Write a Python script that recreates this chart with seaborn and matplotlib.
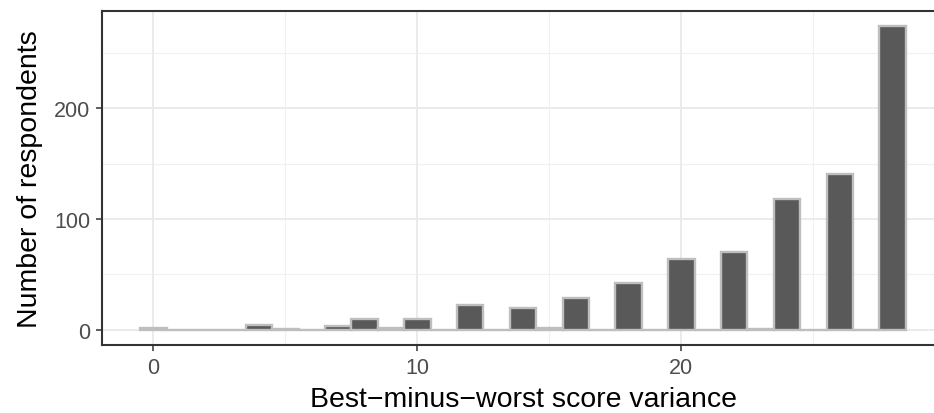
import numpy as np
import pandas as pd
import matplotlib
matplotlib.use("Agg")
import matplotlib.pyplot as plt
import seaborn as sns

# Data: score variance (integer bins) and number of respondents
variance = list(range(0, 29))
respondents = [2, 0, 0, 0, 4, 1, 0, 3, 10, 2, 10, 0, 22, 0, 20, 2,
               29, 0, 42, 0, 64, 0, 70, 1, 118, 0, 141, 0, 274]
x_ticks = [0, 10, 20]
y_ticks = [0, 100, 200]

df = pd.DataFrame({"variance": variance, "respondents": respondents})

sns.set_theme(style="white")
plt.rcParams["font.family"] = ["Liberation Sans", "DejaVu Sans"]

fig = plt.figure(figsize=(9.34, 4.14), dpi=100)
ax = fig.add_axes([102 / 934, 1 - 346 / 414, 842 / 934, 334 / 414])

# grid
for v in [5, 15, 25]:
    ax.axvline(v, color="#F0F0F0", lw=0.8, zorder=0)
for v in [50, 150, 250]:
    ax.axhline(v, color="#F0F0F0", lw=0.8, zorder=0)
for v in x_ticks:
    ax.axvline(v, color="#EBEBEB", lw=1.4, zorder=0)
for v in y_ticks:
    ax.axhline(v, color="#EBEBEB", lw=1.4, zorder=0)

sns.barplot(data=df, x="variance", y="respondents", native_scale=True,
            width=1, ax=ax, color="#595959", saturation=1,
            edgecolor="#BEBEBE", linewidth=1.7, errorbar=None, zorder=2)

ax.set_xlim(-1.95, 29.95)
ax.set_ylim(-13.7, 287.7)
ax.set_xticks(x_ticks)
ax.set_yticks(y_ticks)
ax.set_xticklabels([str(t) for t in x_ticks])
ax.set_yticklabels([str(t) for t in y_ticks])
ax.tick_params(axis="both", which="major", length=4.5, width=1.1,
               color="#333333", labelcolor="#4D4D4D", labelsize=15.5,
               pad=4, bottom=True, left=True)
for s in ax.spines.values():
    s.set_color("#333333")
    s.set_linewidth(1.5)
    s.set_visible(True)

ax.set_xlabel("Best\u2212minus\u2212worst score variance", fontsize=20.5,
              color="black", labelpad=6)
ax.set_ylabel("Number of respondents", fontsize=20.5, color="black", labelpad=8)
ax.grid(False)

fig.savefig("out.png", dpi=100)
